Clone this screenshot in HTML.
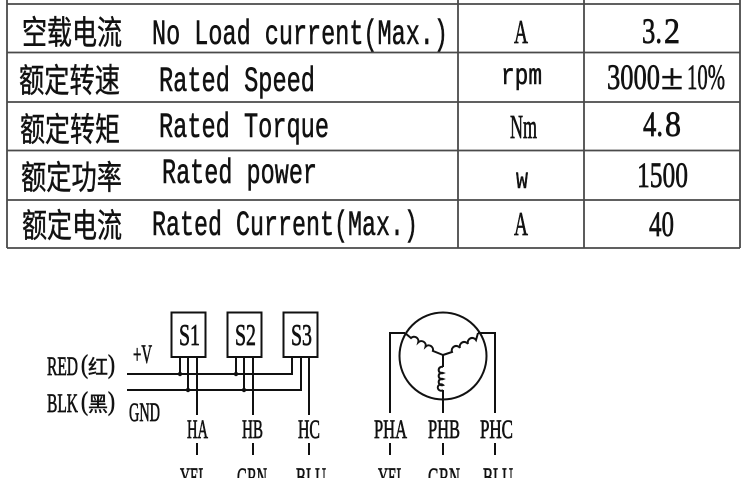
<!DOCTYPE html>
<html>
<head>
<meta charset="utf-8">
<style>
html,body{margin:0;padding:0;background:#fff;width:750px;height:478px;overflow:hidden}
svg{display:block}
.m{font-family:"Liberation Mono",monospace;fill:#111;stroke:#111;stroke-width:.6}
.s{font-family:"Liberation Serif",serif;fill:#111;stroke:#111;stroke-width:.7}
.z{font-family:"Noto Sans CJK SC","Liberation Sans",sans-serif;fill:#111;stroke:#111;stroke-width:.45}
</style>
</head>
<body>
<svg width="750" height="478" viewBox="0 0 750 478" xmlns="http://www.w3.org/2000/svg">
<g stroke="#4a4a4a" stroke-width="1.8" fill="none">
<path d="M7 0V248M458 0V248M584 0V248M740 0V248"/>
<path d="M7 4H740M7 52.500H740M7 102H740M7 150.500H740M7 200H740M7 248H740"/>
</g>
<g class="z" font-size="33">
<text x="22" y="44" textLength="100" lengthAdjust="spacingAndGlyphs">空载电流</text>
<text x="19" y="92" textLength="101" lengthAdjust="spacingAndGlyphs">额定转速</text>
<text x="20" y="141" textLength="100" lengthAdjust="spacingAndGlyphs">额定转矩</text>
<text x="21" y="189" textLength="101" lengthAdjust="spacingAndGlyphs">额定功率</text>
<text x="22" y="237" textLength="100" lengthAdjust="spacingAndGlyphs">额定电流</text>
</g>
<g class="m" font-size="35">
<text x="152" y="44" textLength="296" lengthAdjust="spacingAndGlyphs">No Load current(Max.)</text>
<text x="159" y="91" textLength="156" lengthAdjust="spacingAndGlyphs">Rated Speed</text>
<text x="159" y="137" textLength="170" lengthAdjust="spacingAndGlyphs">Rated Torque</text>
<text x="162" y="183" textLength="155" lengthAdjust="spacingAndGlyphs">Rated power</text>
<text x="152" y="235" textLength="266" lengthAdjust="spacingAndGlyphs">Rated Current(Max.)</text>
</g>
<g class="m" font-size="30">
<text x="501" y="84" textLength="41" lengthAdjust="spacingAndGlyphs">rpm</text>
<text x="516" y="188" textLength="12" lengthAdjust="spacingAndGlyphs">w</text>
</g>
<g class="s" font-size="34">
<text x="514" y="43" textLength="14" lengthAdjust="spacingAndGlyphs">A</text>
<text x="510" y="138" textLength="27" lengthAdjust="spacingAndGlyphs">Nm</text>
<text x="514" y="235" textLength="14" lengthAdjust="spacingAndGlyphs">A</text>
</g>
<g class="s" font-size="36">
<text x="642" y="43" textLength="20" lengthAdjust="spacingAndGlyphs">3.</text>
<text x="664" y="43" textLength="16" lengthAdjust="spacingAndGlyphs">2</text>
<text x="607" y="89" textLength="53" lengthAdjust="spacingAndGlyphs">3000</text>
<text x="661" y="89" textLength="22" lengthAdjust="spacingAndGlyphs">±</text>
<text x="687" y="89" textLength="38" lengthAdjust="spacingAndGlyphs">10%</text>
<text x="643" y="136" textLength="20" lengthAdjust="spacingAndGlyphs">4.</text>
<text x="665" y="136" textLength="16" lengthAdjust="spacingAndGlyphs">8</text>
<text x="637" y="187" textLength="51" lengthAdjust="spacingAndGlyphs">1500</text>
<text x="649" y="236" textLength="25" lengthAdjust="spacingAndGlyphs">40</text>
</g>
<g stroke="#111" stroke-width="2" fill="none">
<rect x="171.500" y="312.500" width="34" height="44.500"/>
<rect x="227.500" y="312.500" width="34" height="44.500"/>
<rect x="283.500" y="312.500" width="34" height="44.500"/>
<path d="M127 374H292V357M127 390H301V357M180 357V374M188 357V390M197 357V415M236 357V374M244 357V390M253 357V415M309 357V415"/>
<path d="M197 443V455M253 443V455M309 443V455M390 443V455M443 443V455M495 443V455"/>
<circle cx="443" cy="356" r="43.500"/>
<path d="M405 333H390V413M478 333H495V413M443 355V367M443 390V413"/>
<path d="M405 333L411 338a4.400 4.400 0 0 1 7.300 4.300a4.400 4.400 0 0 1 7.300 4.300a4.400 4.400 0 0 1 7.300 4.300L443 355"/>
<path d="M443 355L452 352a4.500 4.500 0 0 1 8 -4a4.500 4.500 0 0 1 8 -4a4.500 4.500 0 0 1 8 -4L478 333"/>
<path d="M443 367a3.200 3.200 0 1 0 0 6a3.200 3.200 0 1 0 0 6a3.200 3.200 0 1 0 0 6a3.200 3.200 0 1 0 0 5"/>
</g>
<g fill="#111"><circle cx="180" cy="374" r="2.200"/><circle cx="236" cy="374" r="2.200"/><circle cx="188" cy="390" r="2.200"/><circle cx="244" cy="390" r="2.200"/></g>
<g class="s" font-size="31">
<text x="179" y="345" textLength="21" lengthAdjust="spacingAndGlyphs">S1</text>
<text x="235" y="345" textLength="21" lengthAdjust="spacingAndGlyphs">S2</text>
<text x="291" y="345" textLength="21" lengthAdjust="spacingAndGlyphs">S3</text>
</g>
<g class="s" font-size="26">
<text x="187" y="438" textLength="21" lengthAdjust="spacingAndGlyphs">HA</text>
<text x="242" y="438" textLength="21" lengthAdjust="spacingAndGlyphs">HB</text>
<text x="298" y="438" textLength="22" lengthAdjust="spacingAndGlyphs">HC</text>
<text x="374" y="438" textLength="33" lengthAdjust="spacingAndGlyphs">PHA</text>
<text x="428" y="438" textLength="32" lengthAdjust="spacingAndGlyphs">PHB</text>
<text x="480" y="438" textLength="33" lengthAdjust="spacingAndGlyphs">PHC</text>
<text x="180" y="486" textLength="27" lengthAdjust="spacingAndGlyphs">YEL</text>
<text x="237" y="486" textLength="30" lengthAdjust="spacingAndGlyphs">GRN</text>
<text x="296" y="486" textLength="30" lengthAdjust="spacingAndGlyphs">BLU</text>
<text x="378" y="486" textLength="27" lengthAdjust="spacingAndGlyphs">YEL</text>
<text x="428" y="486" textLength="32" lengthAdjust="spacingAndGlyphs">GRN</text>
<text x="483" y="486" textLength="30" lengthAdjust="spacingAndGlyphs">BLU</text>
<text x="133" y="363" textLength="19" lengthAdjust="spacingAndGlyphs">+V</text>
<text x="129" y="421" textLength="31" lengthAdjust="spacingAndGlyphs">GND</text>
<text x="47" y="375" textLength="31" lengthAdjust="spacingAndGlyphs">RED</text>
<text x="47" y="412" textLength="31" lengthAdjust="spacingAndGlyphs">BLK</text>
<text x="81" y="373" textLength="7" lengthAdjust="spacingAndGlyphs">(</text>
<text x="108" y="373" textLength="7" lengthAdjust="spacingAndGlyphs">)</text>
<text x="81" y="410" textLength="7" lengthAdjust="spacingAndGlyphs">(</text>
<text x="108" y="410" textLength="7" lengthAdjust="spacingAndGlyphs">)</text>
</g>
<g class="z" font-size="20">
<text x="88" y="374" textLength="20" lengthAdjust="spacingAndGlyphs">红</text>
<text x="88" y="411" textLength="20" lengthAdjust="spacingAndGlyphs">黑</text>
</g>
</svg>
</body>
</html>
